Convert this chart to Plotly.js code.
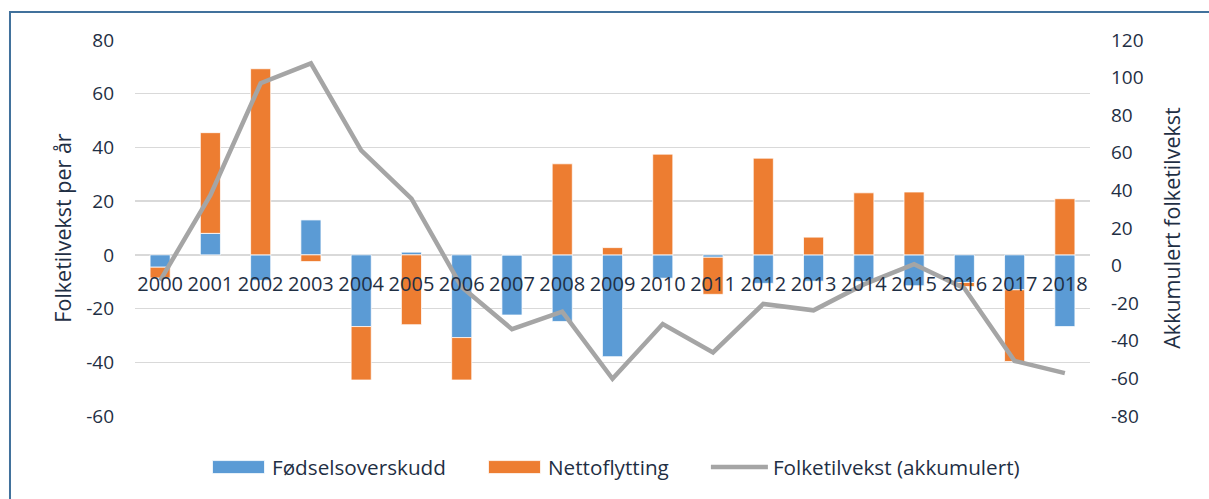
<!DOCTYPE html>
<html>
<head>
<meta charset="utf-8">
<script src="https://cdn.plot.ly/plotly-3.0.1.min.js"></script>
<style>
  html, body { margin: 0; padding: 0; background: #ffffff; }
  #chart { width: 1209px; height: 499px; }
</style>
</head>
<body>
<div id="chart"></div>
<script>
// Data
const years = ['2000','2001','2002','2003','2004','2005','2006','2007','2008','2009',
               '2010','2011','2012','2013','2014','2015','2016','2017','2018'];
const fodselsoverskudd = [-4.6, 8, -9.5, 13, -26.7, 1, -30.8, -22.4, -24.8, -37.9,
                          -8.7, -0.9, -10.6, -9.8, -9.9, -11.5, -10.3, -13, -26.7];
const nettoflytting = [-4, 37.5, 69.3, -2.5, -19.9, -26, -15.8, 0, 33.9, 2.7,
                       37.5, -13.8, 36, 6.6, 23.1, 23.4, -1.5, -26.7, 20.9];
const akkumulert = [-8, 37.5, 97, 107.6, 61.3, 35.6, -11.4, -33.8, -24.5, -60.2,
                    -31.1, -46.2, -20.4, -23.8, -10, 0.8, -12, -50.7, -57.2];

// Tick labels (hyphen minus as in the reference)
const leftTickVals = [80, 60, 40, 20, 0, -20, -40, -60];
const leftTickText = ['80', '60', '40', '20', '0', '-20', '-40', '-60'];
const rightTickVals = [120, 100, 80, 60, 40, 20, 0, -20, -40, -60, -80];
const rightTickText = ['120', '100', '80', '60', '40', '20', '0', '-20', '-40', '-60', '-80'];

const textColor = '#1F2F44';
const font = 'Open Sans, Noto Sans, sans-serif';

const traces = [
  {
    type: 'bar', name: 'Fødselsoverskudd', x: years, y: fodselsoverskudd,
    marker: { color: '#5B9BD5', line: { color: '#ffffff', width: 0.75 } },
    xaxis: 'x', yaxis: 'y', hoverinfo: 'x+y', legend: 'legend'
  },
  {
    type: 'bar', name: 'Nettoflytting', x: years, y: nettoflytting,
    marker: { color: '#ED7D31', line: { color: '#ffffff', width: 0.75 } },
    xaxis: 'x', yaxis: 'y', hoverinfo: 'x+y', legend: 'legend2'
  },
  {
    type: 'scatter', mode: 'lines', name: 'Folketilvekst (akkumulert)', x: years, y: akkumulert,
    line: { color: '#A5A5A5', width: 4.5 },
    xaxis: 'x', yaxis: 'y2', hoverinfo: 'x+y', legend: 'legend3'
  }
];

function legendAt(x) {
  return {
    orientation: 'h', x: x, xanchor: 'left', y: -0.136, yanchor: 'middle',
    font: { size: 20.7, color: textColor }, itemwidth: 57,
    bgcolor: 'rgba(0,0,0,0)', borderwidth: 0
  };
}

const layout = {
  width: 1209, height: 499,
  margin: { l: 135, r: 119, t: 40, b: 83 },
  paper_bgcolor: '#ffffff', plot_bgcolor: '#ffffff',
  font: { family: font, color: textColor, size: 18 },
  barmode: 'relative',
  bargap: 0.6,
  showlegend: true,
  legend: legendAt(0.0733),
  legend2: legendAt(0.3623),
  legend3: legendAt(0.5978),
  xaxis: {
    type: 'category', anchor: 'free', position: 0.428,
    showgrid: false, showline: false, zeroline: false, ticks: '',
    tickfont: { size: 20, color: textColor }, ticklabelstandoff: 15,
    fixedrange: true
  },
  yaxis: {
    range: [-60, 80], tickmode: 'array', tickvals: leftTickVals, ticktext: leftTickText,
    showgrid: true, gridcolor: '#D9D9D9', gridwidth: 1.5,
    zeroline: true, zerolinecolor: '#D9D9D9', zerolinewidth: 1.5,
    showline: false, ticks: '',
    tickfont: { size: 19, color: textColor }, ticklabelstandoff: 20,
    title: { text: 'Folketilvekst per år', font: { size: 21.5, color: textColor }, standoff: 8 },
    automargin: false, fixedrange: true
  },
  yaxis2: {
    overlaying: 'y', side: 'right',
    range: [-80, 120], tickmode: 'array', tickvals: rightTickVals, ticktext: rightTickText,
    showgrid: false, zeroline: false, showline: false, ticks: '',
    tickfont: { size: 19, color: textColor }, ticklabelstandoff: 20,
    title: { text: 'Akkumulert folketilvekst', font: { size: 21.5, color: textColor }, standoff: 22 },
    automargin: false, fixedrange: true
  },
  shapes: [
    {
      type: 'rect', xref: 'paper', yref: 'paper',
      x0: -0.1309, x1: 1.14, y0: -0.25, y1: 1.0745,
      line: { color: '#41719C', width: 2 }, fillcolor: 'rgba(0,0,0,0)', layer: 'below'
    }
  ]
};

function styleLegend(gd) {
  // Wide rectangular legend swatches and rounded line swatch, as in the reference
  gd.querySelectorAll('.legendpoints path').forEach(function (p) {
    if (p.classList.contains('js-line')) {
      p.style.strokeLinecap = 'round';
    } else {
      p.setAttribute('d', 'M26,6.5H-26V-6.5H26Z');
    }
  });
}

Plotly.newPlot('chart', traces, layout, { displayModeBar: false, staticPlot: true }).then(function (gd) {
  styleLegend(gd);
  gd.on('plotly_afterplot', function () { styleLegend(gd); });
  setTimeout(function () { styleLegend(gd); }, 50);
});
</script>
</body>
</html>
